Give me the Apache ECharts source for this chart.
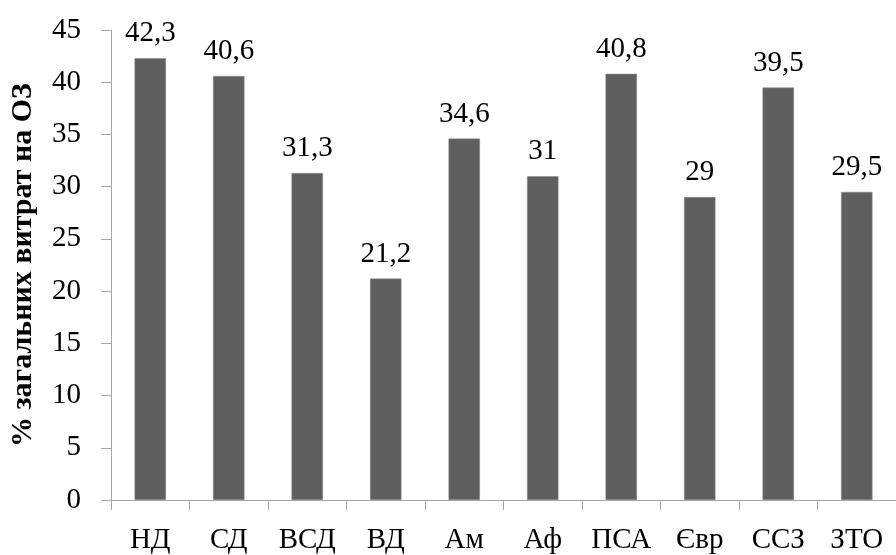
<!DOCTYPE html>
<html>
<head>
<meta charset="utf-8">
<script src="https://cdn.jsdelivr.net/npm/echarts@6/dist/echarts.min.js"></script>
<style>
  html, body { margin: 0; padding: 0; background: #ffffff; }
  #chart { width: 896px; height: 555px; }
</style>
</head>
<body>
<div id="chart"></div>
<script>
// Regions and their share of total expenditure (%)
const categories = ['НД', 'СД', 'ВСД', 'ВД', 'Ам', 'Аф', 'ПСА', 'Євр', 'ССЗ', 'ЗТО'];
const shares = [42.3, 40.6, 31.3, 21.2, 34.6, 31, 40.8, 29, 39.5, 29.5];
const yTicks = [0, 5, 10, 15, 20, 25, 30, 35, 40, 45];
const yTitle = '% загальних витрат на ОЗ';

const serif = '"Liberation Serif", "Times New Roman", serif';
const axisGray = '#a6a6a6';

const chart = echarts.init(document.getElementById('chart'), null, { renderer: 'canvas' });

chart.setOption({
  animation: false,
  backgroundColor: '#ffffff',
  grid: { left: 110, top: 30, width: 794, height: 472, containLabel: false },
  xAxis: {
    type: 'category',
    data: categories,
    axisLine: { show: true, lineStyle: { color: axisGray, width: 1 } },
    axisTick: { show: true, alignWithLabel: false, length: 10, lineStyle: { color: axisGray } },
    axisLabel: {
      margin: 26,
      fontFamily: serif,
      fontSize: 29,
      color: '#000000'
    },
    splitLine: { show: false }
  },
  yAxis: {
    type: 'value',
    min: yTicks[0],
    max: yTicks[yTicks.length - 1],
    interval: yTicks[1] - yTicks[0],
    name: yTitle,
    nameLocation: 'middle',
    nameGap: 73,
    nameRotate: 90,
    nameTextStyle: {
      fontFamily: serif,
      fontWeight: 'bold',
      fontSize: 30,
      color: '#000000'
    },
    axisLine: { show: true, lineStyle: { color: axisGray, width: 1 } },
    axisTick: { show: true, inside: false, length: 10, lineStyle: { color: axisGray } },
    axisLabel: {
      margin: 30,
      fontFamily: serif,
      fontSize: 29,
      color: '#000000'
    },
    splitLine: { show: false }
  },
  series: [{
    type: 'bar',
    data: shares,
    barWidth: '40%',
    itemStyle: { color: '#5f5f5f', borderColor: '#8a8a8a', borderWidth: 0.5 },
    label: {
      show: true,
      position: 'top',
      distance: 10,
      fontFamily: serif,
      fontSize: 29,
      color: '#000000',
      formatter: p => String(p.value).replace('.', ',')
    }
  }]
});
</script>
</body>
</html>
